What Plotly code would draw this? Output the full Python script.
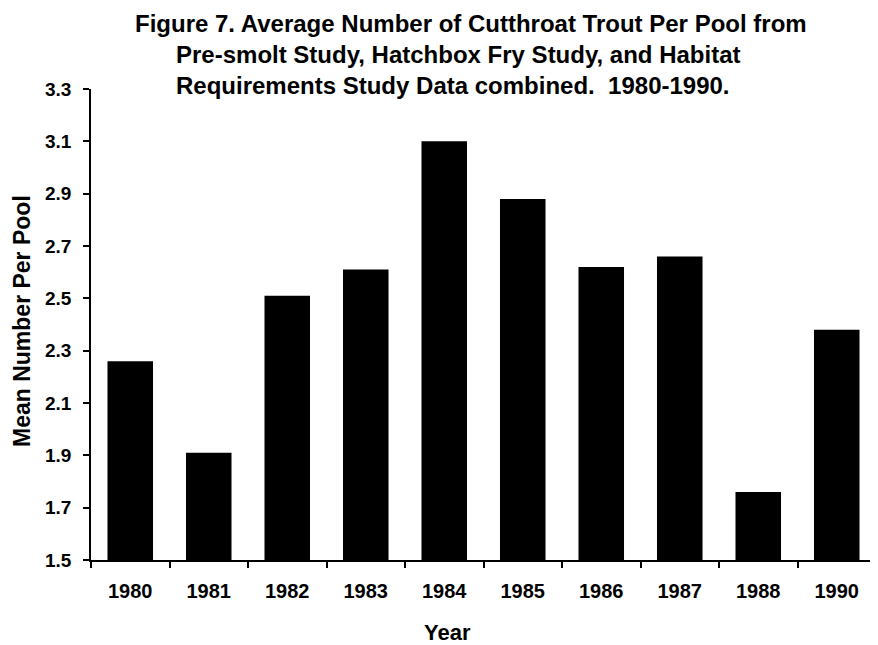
import plotly.graph_objects as go

# Datos
years = ['1980', '1981', '1982', '1983', '1984', '1985', '1986', '1987', '1988', '1990']
mean_per_pool = [2.26, 1.91, 2.51, 2.61, 3.10, 2.88, 2.62, 2.66, 1.76, 2.38]
y_ticks = [1.5, 1.7, 1.9, 2.1, 2.3, 2.5, 2.7, 2.9, 3.1, 3.3]

title_lines = ['Figure 7. Average Number of Cutthroat Trout Per Pool from',
               'Pre-smolt Study, Hatchbox Fry Study, and Habitat',
               'Requirements Study Data combined.  1980-1990.']

FONT = 'Liberation Sans'
OFF = 8  # margen por defecto del <body> en la pagina
W, H = 878 - OFF, 645 - OFF
L, R, T, B = 91 - OFF, 2, 89 - OFF, 85
pw, ph = W - L - R, H - T - B


# pasar pixeles de la pagina a coordenadas "paper"
def px_x(p):
    return (p - OFF - L) / pw


def px_y(p):
    return (H - B - (p - OFF)) / ph


fig = go.Figure()
fig.add_trace(go.Bar(x=years, y=mean_per_pool, marker=dict(color='black', line=dict(width=0))))

fig.update_layout(
    width=W, height=H,
    margin=dict(l=L, r=R, t=T, b=B, autoexpand=False),
    paper_bgcolor='white', plot_bgcolor='white',
    bargap=0.42, showlegend=False,
    font=dict(family=FONT, color='black'),
)

fig.update_xaxes(
    type='category', tickson='boundaries', ticks='outside', ticklen=6, tickwidth=1.5,
    tickcolor='black', showline=True, linecolor='black', linewidth=1.5,
    showgrid=False, automargin=False, tickfont=dict(family=FONT, size=20, weight='bold'),
    ticklabelstandoff=12,
)
fig.update_yaxes(
    range=[1.5, 3.3], tickvals=y_ticks, ticktext=[f'{v:.1f}' for v in y_ticks],
    ticks='outside', ticklen=6, tickwidth=1.5, tickcolor='black',
    showline=True, linecolor='black', linewidth=1.5, showgrid=False, zeroline=False,
    automargin=False, tickfont=dict(family=FONT, size=19, weight='bold'), ticklabelstandoff=8,
)

# Titulos de ejes
fig.add_annotation(text='Year', xref='paper', yref='paper', x=px_x(447), y=px_y(632),
                   xanchor='center', yanchor='middle', showarrow=False,
                   font=dict(family=FONT, size=22, weight='bold'))
fig.add_annotation(text='Mean Number Per Pool', xref='paper', yref='paper', x=px_x(22), y=px_y(321),
                   xanchor='center', yanchor='middle', showarrow=False, textangle=-90,
                   font=dict(family=FONT, size=23, weight='bold'))

# Titulo en tres lineas con sangria
starts = [(133, 23), (174, 54), (174, 85)]
for text, (px, py) in zip(title_lines, starts):
    fig.add_annotation(text=text, xref='paper', yref='paper',
                       x=px_x(px), y=px_y(py),
                       xanchor='left', yanchor='middle', showarrow=False,
                       font=dict(family=FONT, size=24, weight='bold', color='black'))

fig.write_html('out.html')
